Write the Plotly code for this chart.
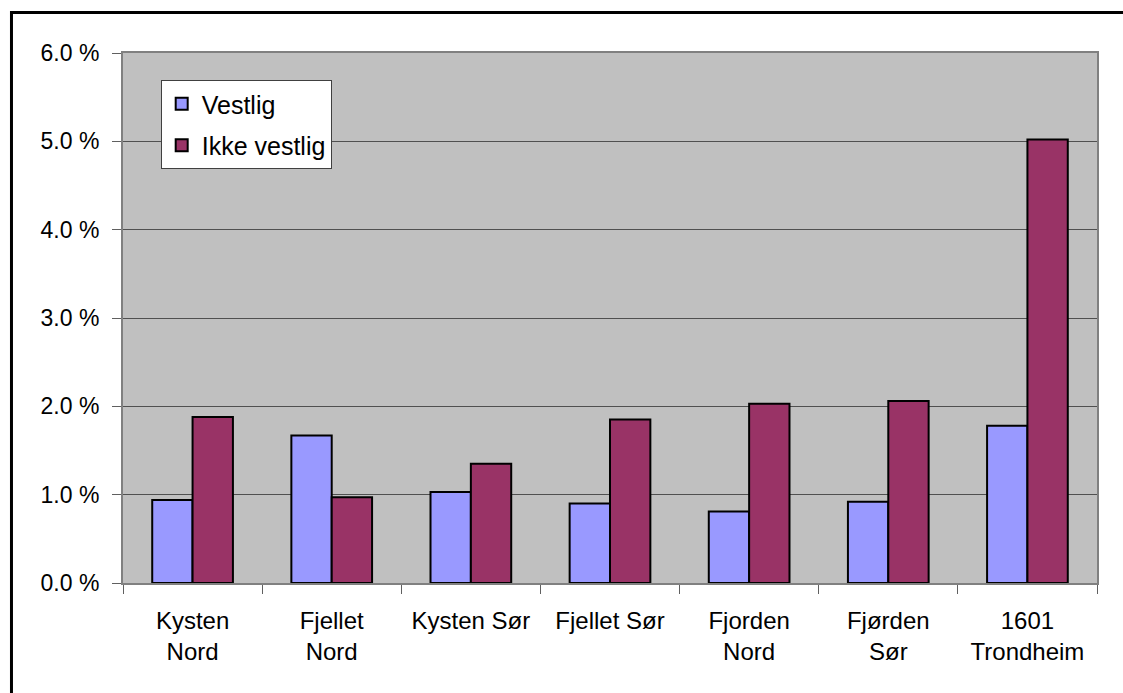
import plotly.graph_objects as go

categories = ["Kysten<br>Nord", "Fjellet<br>Nord", "Kysten Sør", "Fjellet Sør",
              "Fjorden<br>Nord", "Fjørden<br>Sør", "1601<br>Trondheim"]
vestlig = [0.94, 1.67, 1.03, 0.90, 0.81, 0.92, 1.78]
ikke_vestlig = [1.88, 0.97, 1.35, 1.85, 2.03, 2.06, 5.02]
y_ticks = [0, 1, 2, 3, 4, 5, 6]
y_tick_labels = ["0.0 %", "1.0 %", "2.0 %", "3.0 %", "4.0 %", "5.0 %", "6.0 %"]

FONT = "Liberation Sans, Arial, sans-serif"

fig = go.Figure()
fig.add_trace(go.Bar(x=categories, y=vestlig, name="Vestlig", legendgroup="a",
                     marker=dict(color="#9999FF", line=dict(color="#000000", width=2))))
fig.add_trace(go.Bar(x=categories, y=ikke_vestlig, name="Ikke vestlig", legendgroup="b",
                     marker=dict(color="#993366", line=dict(color="#000000", width=2))))

fig.update_layout(
    width=1123, height=693,
    margin=dict(l=123, r=26, t=53, b=110),
    paper_bgcolor="white",
    plot_bgcolor="#C0C0C0",
    barmode="group",
    bargap=0.42,
    bargroupgap=0,
    font=dict(family=FONT, size=23, color="#000000"),
    showlegend=True,
    legend=dict(x=0.0387, y=0.949, xanchor="left", yanchor="top",
                bgcolor="white", bordercolor="#404040", borderwidth=1,
                font=dict(size=25), traceorder="grouped", tracegroupgap=6,
                itemwidth=30),
    xaxis=dict(showgrid=False, ticks="outside", ticklen=9, tickcolor="#606060",
               tickson="boundaries", showline=True, linecolor="#808080", linewidth=2,
               mirror=True, tickfont=dict(size=24), ticklabelstandoff=15),
    yaxis=dict(range=[0, 6], tickvals=y_ticks, ticktext=y_tick_labels,
               showgrid=True, gridcolor="#505050", gridwidth=1,
               ticks="outside", ticklen=9, tickcolor="#606060",
               showline=True, linecolor="#808080", linewidth=2, mirror=True,
               zeroline=False, tickfont=dict(size=23), ticklabelstandoff=8),
    shapes=[dict(type="rect", xref="paper", yref="paper",
                 x0=-0.1145, x1=1.05, y0=-0.25, y1=1.0764,
                 line=dict(color="#000000", width=3), layer="above")],
)

fig.write_html("out.html", config={"displayModeBar": False},
               post_script="document.body.style.margin='0';")
